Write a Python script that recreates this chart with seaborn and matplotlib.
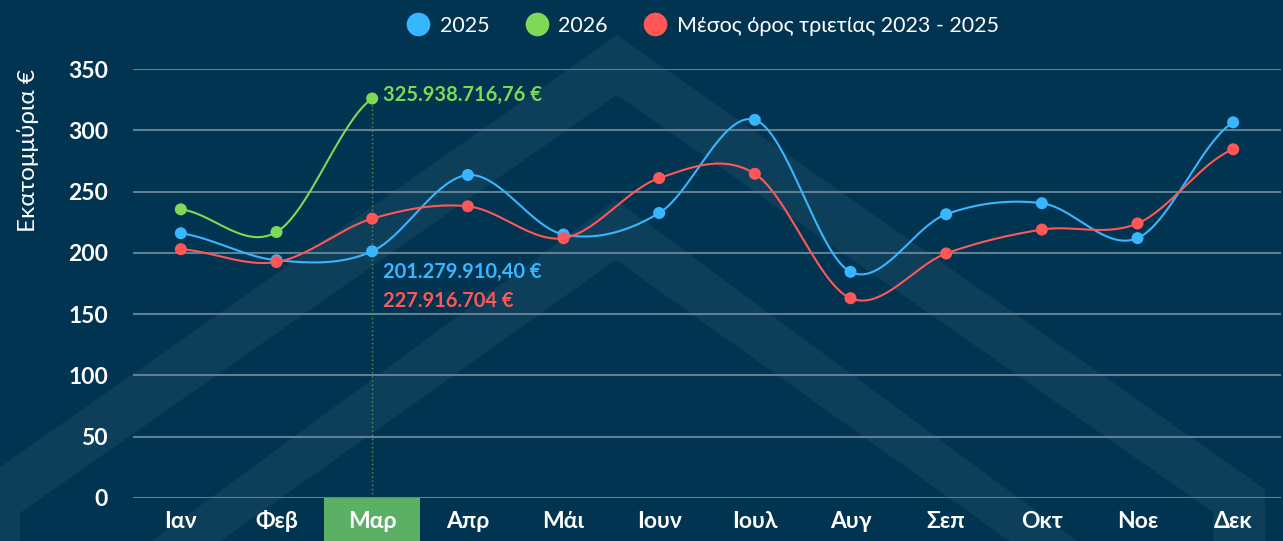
import numpy as np
import pandas as pd
import matplotlib
matplotlib.use("Agg")
import matplotlib.pyplot as plt
import matplotlib.transforms as mtransforms
from matplotlib.patches import Polygon, Rectangle
from matplotlib.lines import Line2D
import seaborn as sns

# Monthly receipts in millions of euro
months = ['Ιαν', 'Φεβ', 'Μαρ', 'Απρ', 'Μάι', 'Ιουν', 'Ιουλ', 'Αυγ', 'Σεπ', 'Οκτ', 'Νοε', 'Δεκ']
values_2025 = [216, 194, 201.28, 263.5, 215, 232.5, 308.5, 184.5, 231.5, 240.5, 212, 306.5]
values_2026 = [235.5, 217, 325.94]
values_avg = [203, 192.5, 227.92, 238, 212, 261, 264.5, 163, 199.5, 219, 224, 284.5]
yticks = [0, 50, 100, 150, 200, 250, 300, 350]

label_2026 = '325.938.716,76 €'
label_2025 = '201.279.910,40 €'
label_avg = '227.916.704 €'
highlight = 2  # current month (Μαρ)

BG = '#003450'
BAND = '#0d3f5a'
BLUE = '#38b6ff'
GREEN = '#7ed957'
RED = '#ff5757'

sns.set_style("dark")
plt.rcParams['font.family'] = ['Lato', 'Noto Sans', 'DejaVu Sans']


def smooth(vals, n=40):
    # Catmull-Rom curve through the points, like the spreadsheet "smoothed line"
    p = np.r_[vals[0], vals, vals[-1]]
    xs, ys = [], []
    t = np.linspace(0, 1, n, endpoint=False)
    for i in range(len(vals) - 1):
        p0, p1, p2, p3 = p[i], p[i + 1], p[i + 2], p[i + 3]
        seg = 0.5 * (2 * p1 + (-p0 + p2) * t + (2 * p0 - 5 * p1 + 4 * p2 - p3) * t ** 2
                     + (-p0 + 3 * p1 - 3 * p2 + p3) * t ** 3)
        xs.extend(i + t)
        ys.extend(seg)
    xs.append(len(vals) - 1)
    ys.append(vals[-1])
    return pd.DataFrame({'x': xs, 'y': ys})


W, H = 1283, 541
fig = plt.figure(figsize=(W / 100, H / 100), dpi=100, facecolor=BG)


# faint chevron watermark in the background (pixel coords, y from top)
def px(points):
    return [(x / W, 1 - y / H) for x, y in points]


outer = [(-30, 600), (-30, 488), (617, 35), (1265, 489), (1265, 600),
         (1213, 600), (1213, 512), (617, 95), (20, 513), (20, 600)]
inner = [(-200, 800), (616, 200), (1400, 780), (1400, 820), (616, 260), (-200, 840)]
for shape in (outer, inner):
    fig.add_artist(Polygon(px(shape), closed=True, transform=fig.transFigure,
                           facecolor=BAND, edgecolor='none', zorder=0))

ax = fig.add_axes([133 / W, 1 - 498 / H, 1148 / W, 429 / H])
ax.set_facecolor('none')

sns.lineplot(data=smooth(values_2025), x='x', y='y', sort=False, ax=ax, color=BLUE, lw=1.5, zorder=3)
sns.lineplot(data=smooth(values_2026), x='x', y='y', sort=False, ax=ax, color=GREEN, lw=1.5, zorder=3)
sns.lineplot(data=smooth(values_avg), x='x', y='y', sort=False, ax=ax, color=RED, lw=1.5, zorder=3)

sns.scatterplot(x=range(len(values_2025)), y=values_2025, ax=ax, color=BLUE, s=75,
                edgecolor='none', zorder=4, clip_on=False)
sns.scatterplot(x=range(len(values_2026)), y=values_2026, ax=ax, color=GREEN, s=75,
                edgecolor='none', zorder=4, clip_on=False)
sns.scatterplot(x=range(len(values_avg)), y=values_avg, ax=ax, color=RED, s=75,
                edgecolor='none', zorder=5, clip_on=False)

# dotted drop line from the current month's 2026 value
ax.vlines(highlight, 0, values_2026[highlight], colors='#4e9a55', linestyles=(0, (1, 2)), lw=1, zorder=2)

ax.set_xlim(-0.5, len(months) - 0.5)
ax.set_ylim(0, 350)
ax.set_yticks(yticks)
ax.set_xticks(range(len(months)))
ax.set_xticklabels(months)
ax.set_xlabel('')
ax.set_ylabel('')
ax.grid(axis='y', color='#5f7f93', lw=1.5)
ax.grid(axis='x', visible=False)
for s in ax.spines.values():
    s.set_visible(False)
ax.tick_params(axis='y', length=0, pad=18, labelsize=16.5, labelcolor='white')
ax.tick_params(axis='x', length=0, pad=9, labelsize=16.5, labelcolor='white')
for lab in ax.get_xticklabels() + ax.get_yticklabels():
    lab.set_fontweight('bold')

# green box behind the highlighted month label
trans = mtransforms.blended_transform_factory(ax.transData, ax.transAxes)
ax.add_patch(Rectangle((highlight - 0.5, -0.105), 1, 0.105, transform=trans,
                       facecolor='#5cb065', edgecolor='none', clip_on=False, zorder=0.5))

# value labels for the current month
ax.annotate(label_2026, (highlight, values_2026[highlight]), xytext=(11, 4), textcoords='offset pixels',
            color=GREEN, fontsize=14.5, fontweight='bold', va='center', ha='left')
ax.annotate(label_2025, (highlight, values_2025[highlight]), xytext=(11, -21), textcoords='offset pixels',
            color=BLUE, fontsize=14.5, fontweight='bold', va='center', ha='left')
ax.annotate(label_avg, (highlight, values_2025[highlight]), xytext=(11, -50), textcoords='offset pixels',
            color=RED, fontsize=14.5, fontweight='bold', va='center', ha='left')

fig.text(28 / W, 1 - 150 / H, 'Εκατομμύρια €', rotation=90, color='white', fontsize=17.5,
         ha='center', va='center')

handles = [Line2D([], [], marker='o', ls='none', markersize=17, color=c, markeredgewidth=0)
           for c in (BLUE, GREEN, RED)]
fig.legend(handles, ['2025', '2026', 'Μέσος όρος τριετίας 2023 - 2025'], loc='center',
           bbox_to_anchor=(700 / W, 1 - 26 / H), ncol=3, frameon=False, fontsize=15.5,
           labelcolor='white', handletextpad=0.2, handlelength=1.6, columnspacing=1.4)

fig.savefig('out.png', dpi=100, facecolor=BG)
